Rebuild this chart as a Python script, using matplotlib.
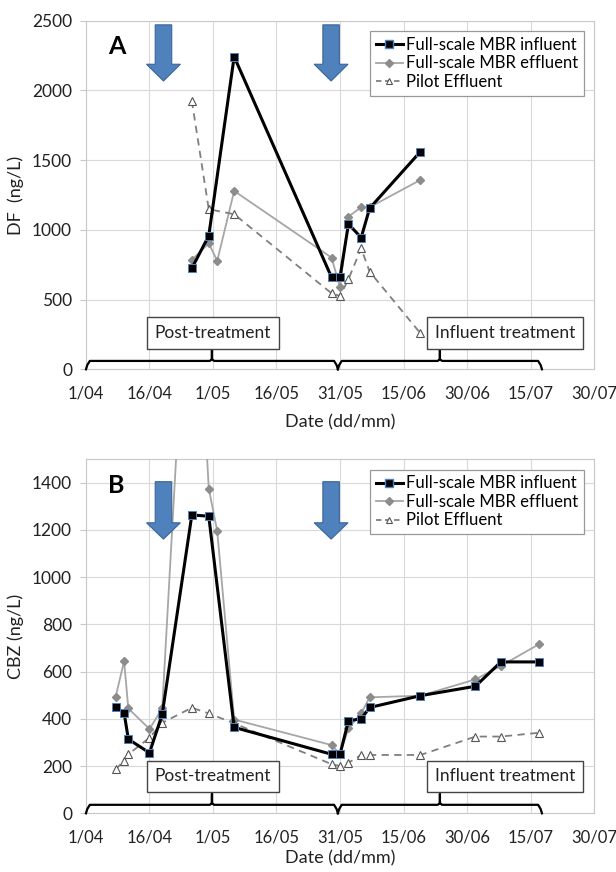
import numpy as np
import matplotlib.pyplot as plt
from matplotlib.patches import FancyArrow
from matplotlib.lines import Line2D
import matplotlib.transforms as mtransforms

plt.rcParams['font.family'] = ['Lato', 'DejaVu Sans']

# x values are days counted from 1 April
tick_days = [0, 15, 30, 45, 60, 75, 90, 105, 120]
tick_labels = ["1/04", "16/04", "1/05", "16/05", "31/05", "15/06", "30/06", "15/07", "30/07"]

# panel A : DF (ng/L)
a_inf_days = [25, 29, 35, 58, 60, 62, 65, 67, 79]
a_inf = [724, 958, 2242, 660, 660, 1042, 944, 1155, 1561]
a_eff_days = [25, 29, 31, 35, 58, 60, 62, 65, 67, 79]
a_eff = [784, 904, 777, 1279, 801, 588, 1095, 1162, 1162, 1358]
a_pil_days = [25, 29, 35, 58, 60, 62, 65, 67, 79]
a_pil = [1925, 1148, 1112, 545, 526, 646, 868, 700, 258]

# panel B : CBZ (ng/L)
b_inf_days = [7, 9, 10, 15, 18, 25, 29, 35, 58, 60, 62, 65, 67, 79, 92, 98, 107]
b_inf = [448, 426, 314, 256, 419, 1263, 1258, 364, 250, 250, 392, 400, 448, 498, 538, 641, 641]
b_eff_days = [7, 9, 10, 15, 18, 25, 29, 31, 35, 58, 60, 62, 65, 67, 79, 92, 98, 107]
b_eff = [493, 644, 444, 357, 444, 2700, 1375, 1195, 397, 289, 250, 360, 423, 491, 498, 567, 624, 716]
b_pil_days = [7, 9, 10, 15, 18, 25, 29, 35, 58, 60, 62, 65, 67, 79, 92, 98, 107]
b_pil = [186, 223, 250, 320, 383, 447, 423, 381, 208, 200, 214, 247, 247, 247, 325, 325, 341]

arrow_days = [18.3, 57.9]
brace_days = [0, 59.5, 107.7]
phase_names = ["Post-treatment", "Influent treatment"]
phase_text_days = [29.9, 98.9]

fig = plt.figure(figsize=(6.16, 8.72), dpi=100)
axA = fig.add_axes([0.1396, 0.5765, 0.8247, 0.3998])
axB = fig.add_axes([0.1396, 0.0673, 0.8247, 0.4063])


def panel(ax, inf_d, inf, eff_d, eff, pil_d, pil, ymax, ystep, ylabel, letter, arrow_y, xpad):
    ax.plot(eff_d, eff, color='#a6a6a6', lw=1.3, marker='D', ms=3.8,
            mfc='#8c8c8c', mec='#8c8c8c', zorder=3)
    ax.plot(pil_d, pil, color='#7f7f7f', lw=1.3, ls=(0, (4, 3)), marker='^', ms=6,
            mfc='white', mec='#555555', mew=0.8, zorder=3)
    ax.plot(inf_d, inf, color='black', lw=2.2, marker='s', ms=5.2,
            mfc='black', mec='#4f81bd', mew=0.7, zorder=4)

    ax.set_xlim(0, 120)
    ax.set_ylim(0, ymax)
    ax.set_xticks(tick_days)
    ax.set_xticklabels(tick_labels)
    ax.set_yticks(np.arange(0, ymax + 1, ystep))
    ax.grid(True, color='#d9d9d9', lw=0.8)
    ax.set_axisbelow(True)
    for s in ax.spines.values():
        s.set_color('#c8c8c8')
        s.set_linewidth(0.8)
    ax.tick_params(axis='x', length=0, pad=12, labelsize=12, colors='#222222')
    ax.tick_params(axis='y', length=4, color='#c8c8c8', pad=6, labelsize=12.5, labelcolor='#222222')
    ax.set_xlabel("Date (dd/mm)", fontsize=13, labelpad=xpad, color='#222222')
    ax.set_ylabel(ylabel, fontsize=13, labelpad=6, color='#222222')

    ax.text(0.06, 0.925, letter, transform=ax.transAxes, fontsize=18,
            fontweight='bold', ha='center', va='center')

    # blue arrows
    trans = mtransforms.blended_transform_factory(ax.transData, ax.transAxes)
    top, tip, hl = arrow_y
    for d in arrow_days:
        ax.add_patch(FancyArrow(d, top, 0, tip - top, width=3.9, head_width=8.0,
                                head_length=hl, length_includes_head=True,
                                transform=trans, fc='#4f81bd', ec='#3a6596',
                                lw=0.8, zorder=5, clip_on=False))

    # curly brackets above the time axis
    yb, ytop = 0.024, 0.055
    for i in range(2):
        x0, x1 = brace_days[i], brace_days[i + 1]
        xm = (x0 + x1) / 2
        ax.plot([x0, x0 + 0.3, x0 + 0.9, xm - 0.5, xm, xm, xm, xm + 0.5, x1 - 0.9, x1 - 0.3, x1],
                [0.0, yb - 0.012, yb, yb, yb + 0.005, ytop, yb + 0.005, yb, yb, yb - 0.012, 0.0],
                color='black', lw=1.6, transform=trans, zorder=5, clip_on=False,
                solid_joinstyle='round')
        ax.text(phase_text_days[i], 0.104, phase_names[i], transform=trans,
                ha='center', va='center', fontsize=12.5, color='#222222', zorder=6,
                bbox=dict(boxstyle='square,pad=0.45', fc='white', ec='#444444', lw=1.0))

    handles = [
        Line2D([], [], color='black', lw=2.2, marker='s', ms=5.2, mfc='black', mec='#4f81bd'),
        Line2D([], [], color='#a6a6a6', lw=1.3, marker='D', ms=3.8, mfc='#8c8c8c', mec='#8c8c8c'),
        Line2D([], [], color='#7f7f7f', lw=1.3, ls=(0, (3, 2)), marker='^', ms=5,
               mfc='white', mec='#555555', mew=0.8),
    ]
    leg = ax.legend(handles, ["Full-scale MBR influent", "Full-scale MBR effluent", "Pilot Effluent"],
                    loc='upper right', bbox_to_anchor=(0.98, 0.97), fontsize=12,
                    frameon=True, fancybox=False, edgecolor='#999999', framealpha=1,
                    handlelength=1.6, handletextpad=0.2, borderpad=0.35, labelspacing=0.15,
                    borderaxespad=0)
    leg.get_frame().set_linewidth(0.9)
    leg.set_zorder(7)


panel(axA, a_inf_days, a_inf, a_eff_days, a_eff, a_pil_days, a_pil,
      2500, 500, "DF  (ng/L)", "A", (0.988, 0.827, 0.048), 9)
panel(axB, b_inf_days, b_inf, b_eff_days, b_eff, b_pil_days, b_pil,
      1500, 200, "CBZ (ng/L)", "B", (0.936, 0.774, 0.046), 3)
axB.set_yticks(np.arange(0, 1401, 200))

fig.savefig("out.png", dpi=100)
